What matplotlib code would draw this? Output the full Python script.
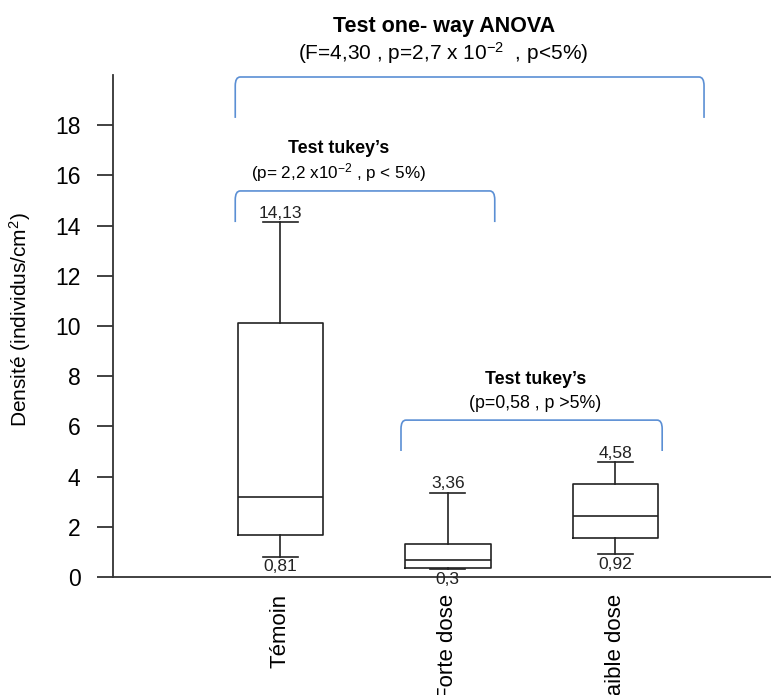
import matplotlib
matplotlib.use("Agg")
import matplotlib.pyplot as plt
from matplotlib.path import Path
from matplotlib.patches import PathPatch

plt.rcParams['font.family'] = ['Liberation Sans', 'DejaVu Sans']
plt.rcParams['mathtext.default'] = 'regular'

# Summary statistics per treatment
categories = ["Témoin", "Forte dose", "Faible dose"]
mins = [0.81, 0.3, 0.92]
q1s = [1.67, 0.36, 1.55]
medians = [3.19, 0.68, 2.43]
q3s = [10.12, 1.31, 3.70]
maxs = [14.13, 3.36, 4.58]

yticks = [0, 2, 4, 6, 8, 10, 12, 14, 16, 18]

fig = plt.figure(figsize=(7.71, 6.95), dpi=100)
ax = fig.add_axes([0.1466, 0.1698, 0.8534, 0.7223])

stats = []
for lab, lo, a, m, b, hi in zip(categories, mins, q1s, medians, q3s, maxs):
    stats.append(dict(label=lab, whislo=lo, q1=a, med=m, q3=b, whishi=hi, fliers=[]))

positions = list(range(len(categories)))
line = dict(color='#222222', linewidth=1.2)
ax.bxp(stats, positions=positions, widths=0.51, showfliers=False,
       boxprops=line, whiskerprops=line, capprops=line,
       medianprops=dict(color='#222222', linewidth=1.2),
       capwidths=0.21, manage_ticks=False)

# value labels on whisker ends
def fmt(v):
    return f"{v:g}".replace('.', ',')

for x, lo, hi in zip(positions, mins, maxs):
    ax.annotate(fmt(hi), (x, hi), xytext=(0, 1), textcoords='offset points',
                ha='center', va='bottom', fontsize=12.5, color='#222222')
    ax.annotate(fmt(lo), (x, lo), xytext=(0, -2), textcoords='offset points',
                ha='center', va='top', fontsize=12.5, color='#222222')

ax.set_xlim(-1, 2.93)
ax.set_ylim(0, 20)
ax.set_yticks(yticks)
ax.set_yticklabels([str(t) for t in yticks], fontsize=16.5)
ax.set_xticks(positions)
ax.set_xticklabels(categories, rotation=90, fontsize=16, va='top')
ax.tick_params(axis='y', length=11.5, width=1.3, color='#333333', pad=12)
ax.tick_params(axis='x', length=0, pad=12)
for s in ['top', 'right']:
    ax.spines[s].set_visible(False)
for s in ['left', 'bottom']:
    ax.spines[s].set_color('#333333')
    ax.spines[s].set_linewidth(1.3)
ax.set_ylabel("Densité (individus/cm$^2$)", fontsize=15)
ax.yaxis.set_label_coords(-0.122, 0.512)

# significance brackets
bracket_color = '#5b8fd4'

def bracket(x0, x1, ybot, ytop, rx=0.03, ry=0.35):
    verts = [(x0, ybot), (x0, ytop - ry), (x0, ytop), (x0 + rx, ytop),
             (x1 - rx, ytop), (x1, ytop), (x1, ytop - ry), (x1, ybot)]
    codes = [Path.MOVETO, Path.LINETO, Path.CURVE3, Path.CURVE3,
             Path.LINETO, Path.CURVE3, Path.CURVE3, Path.LINETO]
    ax.add_patch(PathPatch(Path(verts, codes), fill=False, edgecolor=bracket_color,
                           linewidth=1.2, clip_on=False))

bracket(-0.27, 2.53, 18.29, 19.92)
bracket(-0.27, 1.28, 14.14, 15.38)
bracket(0.72, 2.28, 5.02, 6.25)

ax.text(0.98, 21.95, "Test one- way ANOVA", ha='center', va='center',
        fontsize=15.5, fontweight='bold', clip_on=False)
ax.text(0.97, 20.88, "(F=4,30 , p=2,7 x 10$^{-2}$  , p<5%)", ha='center', va='center',
        fontsize=15, clip_on=False)
ax.text(0.35, 17.09, "Test tukey’s", ha='center', va='center',
        fontsize=12.8, fontweight='bold')
ax.text(0.35, 16.13, "(p= 2,2 x10$^{-2}$ , p < 5%)", ha='center', va='center',
        fontsize=12.3)
ax.text(1.525, 7.86, "Test tukey’s", ha='center', va='center',
        fontsize=12.8, fontweight='bold')
ax.text(1.52, 6.93, "(p=0,58 , p >5%)", ha='center', va='center',
        fontsize=12.8)

fig.savefig("out.png", dpi=100)
